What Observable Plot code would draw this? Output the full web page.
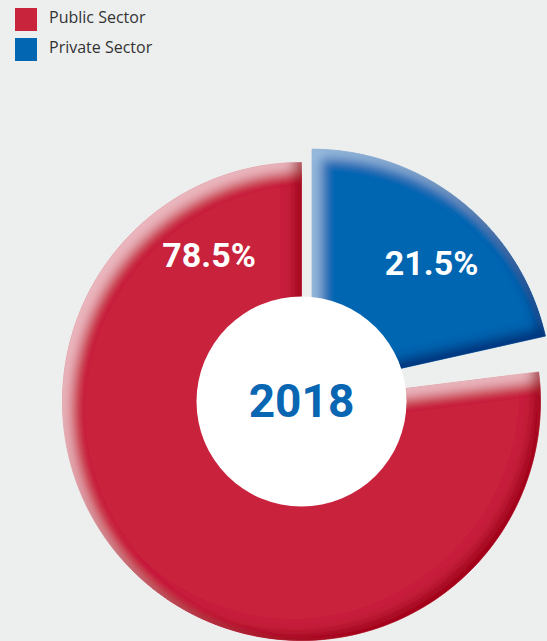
<!DOCTYPE html>
<html>
<head>
<meta charset="utf-8">
<script src="https://cdn.jsdelivr.net/npm/d3@7"></script>
<script src="https://cdn.jsdelivr.net/npm/@observablehq/plot@0.6"></script>
<style>
  html, body { margin: 0; padding: 0; background: #edefef; width: 547px; height: 641px; overflow: hidden; }
  #legend { height: 62px; box-sizing: border-box; padding: 4px 0 0 15px; font-family: "Open Sans", sans-serif; font-size: 16px; color: #333; }
  .item { display: flex; align-items: center; height: 30px; }
  .sw { width: 22px; height: 23px; margin-right: 12px; }
  .item span { position: relative; top: -2px; }
</style>
</head>
<body>
<div id="legend"></div>
<div id="chart"></div>
<script>
// ---- data ----
const categories = ["Public Sector", "Private Sector"];
const shares = [78.5, 21.5];
const sliceColors = ["#c8243c", "#0366b2"];
const centerLabel = "2018";

// ---- layout constants ----
const W = 547, H = 579;
const cx = 301, cy = 339;
const R = 239;
const holeR = 105;
const explode = 17 / R;
const padDeg = 5.5;
const labelR = 172 / R;
const labelAngles = {"Public Sector": -32.5, "Private Sector": 44};
const bevelColors = {"Public Sector": ["#f3cbd2", "#9a0010"], "Private Sector": ["#a9cbe7", "#002470"]};

const legend = d3.select("#legend");
categories.forEach((c, i) => {
  const it = legend.append("div").attr("class", "item");
  it.append("div").attr("class", "sw").style("background", sliceColors[i]);
  it.append("span").text(c);
});

const rows = categories.map((c, i) => ({category: c, share: shares[i], color: sliceColors[i]}));
const order = [rows[1], rows[0]];
const arcs = d3.pie().sort(null).value(d => d.share)(order);

const slices = arcs.map(a => {
  const isPrivate = a.data.category === "Private Sector";
  let a0 = a.startAngle, a1 = a.endAngle;
  if (!isPrivate) a0 += padDeg * Math.PI / 180;
  const mid = (a.startAngle + a.endAngle) / 2;
  const ox = isPrivate ? explode * Math.sin(mid) : 0;
  const oy = isPrivate ? explode * Math.cos(mid) : 0;
  const pts = [{x: ox, y: oy}];
  const n = 180;
  for (let k = 0; k <= n; k++) {
    const t = a0 + (a1 - a0) * k / n;
    pts.push({x: ox + Math.sin(t), y: oy + Math.cos(t)});
  }
  pts.push({x: ox, y: oy});
  const la = labelAngles[a.data.category] * Math.PI / 180;
  return {
    ...a.data, pts, isPrivate,
    lx: labelR * Math.sin(la) + ox,
    ly: labelR * Math.cos(la) + oy,
    label: a.data.share.toFixed(1) + "%"
  };
});

const marks = [];
slices.forEach(s => {
  marks.push(Plot.line(s.pts, {x: "x", y: "y", fill: s.color, stroke: s.color, strokeWidth: 0.5}));
});
marks.push(Plot.dot([{x: 0, y: 0}], {x: "x", y: "y", r: holeR, fill: "white", stroke: "none"}));
marks.push(Plot.text(slices, {x: "lx", y: "ly", text: "label", fill: "white", fontSize: 34, fontWeight: "bold", fontFamily: "Roboto"}));
marks.push(Plot.text([{x: 0, y: 0, t: centerLabel}], {x: "x", y: "y", text: "t", fill: "#0866b3", fontSize: 46, fontWeight: "bold", fontFamily: "Roboto", dy: 1}));

const svg = Plot.plot({
  width: W, height: H, margin: 0,
  x: {domain: [-cx / R, (W - cx) / R], range: [0, W], axis: null},
  y: {domain: [-(H - cy) / R, cy / R], range: [H, 0], axis: null},
  style: {background: "transparent", overflow: "visible"},
  marks
});

const defs = d3.select(svg).insert("defs", ":first-child");
function bevel(id, light, dark) {
  const f = defs.append("filter").attr("id", id).attr("x", "-5%").attr("y", "-5%").attr("width", "110%").attr("height", "110%");
  f.append("feGaussianBlur").attr("in", "SourceAlpha").attr("stdDeviation", 6).attr("result", "b");
  f.append("feOffset").attr("in", "b").attr("dx", 9).attr("dy", 9).attr("result", "bdr");
  f.append("feComposite").attr("in", "SourceAlpha").attr("in2", "bdr").attr("operator", "arithmetic").attr("k2", 1).attr("k3", -1).attr("result", "hiMask");
  f.append("feFlood").attr("flood-color", light).attr("flood-opacity", 0.8).attr("result", "hiC");
  f.append("feComposite").attr("in", "hiC").attr("in2", "hiMask").attr("operator", "in").attr("result", "hi");
  f.append("feOffset").attr("in", "b").attr("dx", -8).attr("dy", -8).attr("result", "bul");
  f.append("feComposite").attr("in", "SourceAlpha").attr("in2", "bul").attr("operator", "arithmetic").attr("k2", 1).attr("k3", -1).attr("result", "shMask");
  f.append("feFlood").attr("flood-color", dark).attr("flood-opacity", 0.85).attr("result", "shC");
  f.append("feComposite").attr("in", "shC").attr("in2", "shMask").attr("operator", "in").attr("result", "sh");
  const m = f.append("feMerge");
  m.append("feMergeNode").attr("in", "SourceGraphic");
  m.append("feMergeNode").attr("in", "hi");
  m.append("feMergeNode").attr("in", "sh");
}
const lineGroups = svg.querySelectorAll('g[aria-label="line"]');
slices.forEach((s, i) => {
  const id = "bevel-" + i;
  bevel(id, bevelColors[s.category][0], bevelColors[s.category][1]);
  if (lineGroups[i]) lineGroups[i].setAttribute("filter", "url(#" + id + ")");
});

document.getElementById("chart").appendChild(svg);
</script>
</body>
</html>
